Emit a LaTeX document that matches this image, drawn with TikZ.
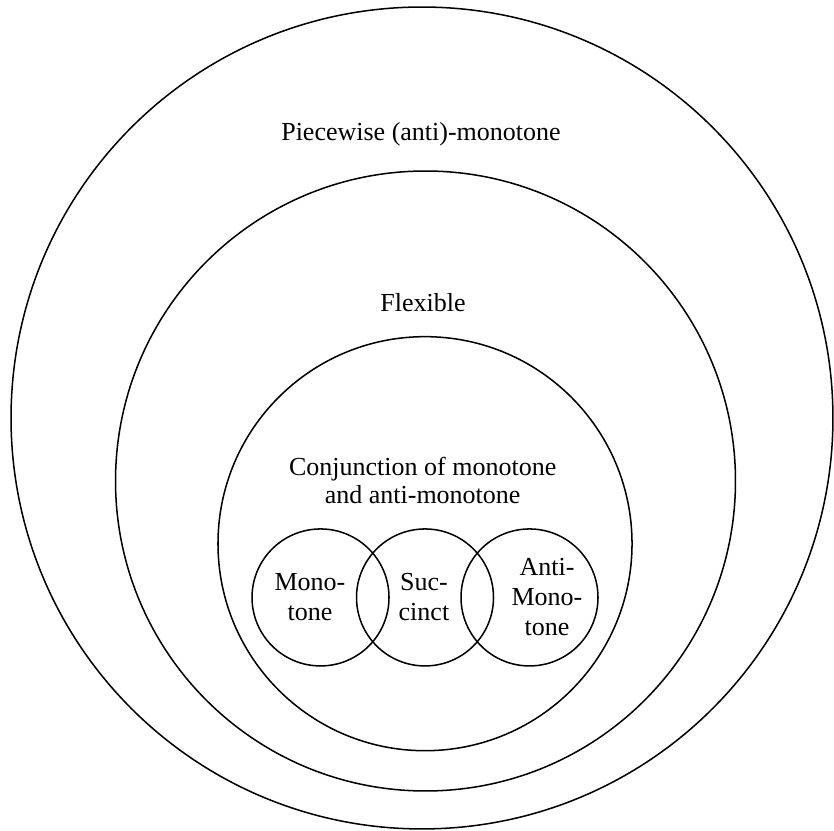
\documentclass[tikz,border=0pt]{standalone}
\usepackage{fontspec}
\setmainfont{Liberation Serif}
\def\outercircle{(0,0) circle (6.666cm)}
\def\flexcircle{(0.057,-1.022) circle (5.028cm)}
\def\conjcircle{(0.049,-2.039) circle (3.358cm)}
\def\monocircle{(-1.646,-2.911) circle (1.111cm)}
\def\succcircle{(0.049,-2.911) circle (1.111cm)}
\def\anticircle{(1.744,-2.911) circle (1.111cm)}

\begin{document}
\begin{tikzpicture}[line width=0.7pt,
    biglabel/.style={align=center, font=\fontsize{12}{13}\selectfont},
    smalllabel/.style={align=center, font=\fontsize{12}{13.8}\selectfont}]
      \useasboundingbox (-6.845,-6.699) rectangle (6.683,6.780);
      \begin{scope}
        \draw \outercircle;
        \draw \flexcircle;
        \draw \conjcircle;
        \draw \monocircle;
        \draw \succcircle;
        \draw \anticircle;
      \end{scope}
      \node[biglabel] (piecewise) at (-0.016,4.607) {Piecewise (anti)-monotone};
      \node[biglabel] (flexible) at (0.016,1.865) {Flexible};
      \node[biglabel] (conj) at (0.011,-1.017) {Conjunction of monotone\\and anti-monotone};
      \node[smalllabel] (mono) at (-1.817,-2.903) {Mono-\\tone};
      \node[smalllabel] (succ) at (0.032,-2.903) {Suc-\\cinct};
      \node[smalllabel] (anti) at (2.028,-2.903) {Anti-\\Mono-\\tone};
    \end{tikzpicture}
\end{document}
